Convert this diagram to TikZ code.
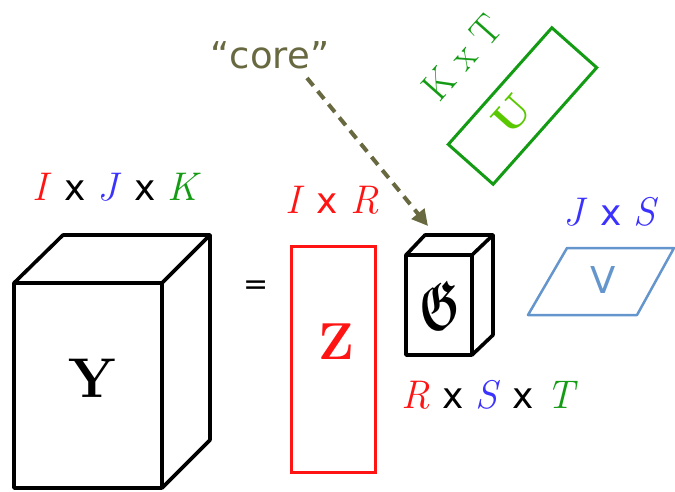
\documentclass[tikz,border=0pt]{standalone}
\usepackage{fontspec}
\usepackage{amsmath,amssymb,graphicx}
\newfontfamily\dvs{DejaVu Sans}
\usetikzlibrary{arrows.meta}
\definecolor{cred}{RGB}{255,20,20}
\definecolor{cblue}{RGB}{60,50,255}
\definecolor{cgreen}{RGB}{20,155,20}
\definecolor{ulight}{RGB}{90,200,0}
\definecolor{vblue}{RGB}{100,150,205}
\definecolor{olive}{RGB}{105,105,65}
\newcommand{\tx}{{\fontsize{36}{36}\selectfont\dvs x}}
\newcommand{\vi}[1]{\textit{#1}}
\tikzset{
  cube/.style={draw=black, line width=3.6pt, line join=round},
  dimlabel/.style={inner sep=0pt, font=\fontsize{40}{40}\selectfont},
}
\begin{document}
\begin{tikzpicture}[x=1pt,y=-1pt]
\useasboundingbox (0,0) rectangle (675,491);
% Y cube
\draw[cube] (14,283) rectangle (162,488);
\draw[cube] (14,283) -- (63,235) -- (210,235) -- (162,283);
\draw[cube] (210,235) -- (210,440) -- (162,488);
\node (Y) at (92,378) {\fontsize{56}{56}\selectfont\bfseries Y};
\node[dimlabel] (dimY) at (117,187) {\textcolor{cred}{\vi{I}} \tx{} \textcolor{cblue}{\vi{J}} \tx{} \textcolor{cgreen}{\vi{K}}};
% equals
\node (eq) at (256,288) {\fontsize{30}{30}\selectfont\dvs =};
% Z
\draw[draw=cred, line width=3pt] (291,246) rectangle (375,472);
\node[text=cred] (Z) at (336,342) {\fontsize{52}{52}\selectfont\bfseries Z};
\node[dimlabel, text=cred] (dimZ) at (332,200) {\vi{I} \tx{} \vi{R}};
% G cube
\draw[cube] (406,255) rectangle (472,355);
\draw[cube] (406,255) -- (425,235) -- (493,235) -- (472,255);
\draw[cube] (493,235) -- (493,335) -- (472,355);
\node (G) at (440,305) {\scalebox{4.4}[7]{$\boldsymbol{\mathfrak{G}}$}};
\node[dimlabel] (dimG) at (490,395) {\textcolor{cred}{\vi{R}} \tx{} \textcolor{cblue}{\vi{S}} \tx{} \textcolor{cgreen}{\vi{T}}};
% core arrow
\node[text=olive, inner sep=0pt] (core) at (270,55) {\fontsize{37}{37}\selectfont\dvs “core”};
\coordinate (arrS) at (307,78);
\coordinate (arrE) at (428,226);
\draw[olive, line width=4pt, dash pattern=on 10pt off 7pt, -{Triangle[length=16pt,width=16pt]}] (arrS) -- (arrE);
% V
\draw[vblue, line width=2.5pt, line join=round] (528,315) -- (567,248) -- (674,248) -- (637,315) -- cycle;
\node[text=vblue] (V) at (603,280) {\fontsize{37}{37}\selectfont\dvs V};
\node[dimlabel, text=cblue] (dimV) at (611,212) {\vi{J} \tx{} \vi{S}};
% U
\node[draw=cgreen, line width=3pt, rotate=48.4, minimum width=156pt, minimum height=60pt, inner sep=0pt] (Urect) at (522.5,106) {};
\node[text=ulight, rotate=48.4] (U) at (512,115) {\fontsize{42}{42}\selectfont\bfseries U};
\node[text=cgreen, rotate=48.4, inner sep=0pt] (dimU) at (462,57) {\fontsize{40}{40}\selectfont K x T};
\end{tikzpicture}
\end{document}
